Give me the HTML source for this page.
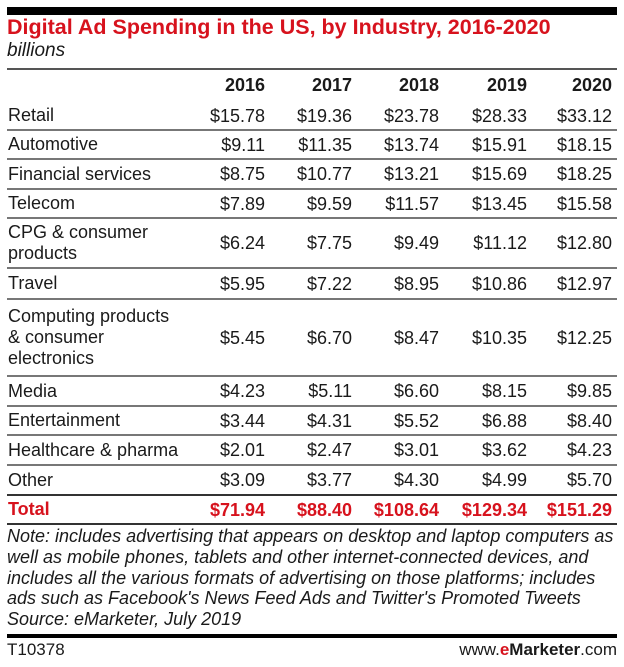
<!DOCTYPE html>
<html><head><meta charset="utf-8">
<style>
body{margin:0;width:624px;height:667px;background:#fff;font-family:"Liberation Sans",sans-serif;color:#1a1a1a;position:relative;overflow:hidden}
.a{position:absolute;white-space:nowrap}
.ln{position:absolute;left:7px;width:610px;background:#555}
.c{position:absolute;text-align:right;font-size:18px;line-height:20px}
.lab{position:absolute;left:8px;font-size:18px;line-height:21px}
</style></head><body>
<div class="a" style="left:7px;top:7px;width:610px;height:8px;background:#000"></div>
<div class="a" style="left:7px;top:15px;font-size:21.5px;font-weight:bold;color:#d7121d">Digital Ad Spending in the US, by Industry, 2016-2020</div>
<div class="a" style="left:7px;top:40px;font-size:19px;font-style:italic">billions</div>
<div class="ln" style="top:68px;height:2px"></div>
<div id="tbl"></div>
<div class="a" style="left:7px;top:526px;font-size:18px;font-style:italic;line-height:20.8px">Note: includes advertising that appears on desktop and laptop computers as<br>well as mobile phones, tablets and other internet-connected devices, and<br>includes all the various formats of advertising on those platforms; includes<br>ads such as Facebook's News Feed Ads and Twitter's Promoted Tweets<br>Source: eMarketer, July 2019</div>
<div class="a" style="left:7px;top:634px;width:610px;height:4px;background:#000"></div>
<div class="a" style="left:7px;top:640px;font-size:17px">T10378</div>
<div class="a" style="right:7px;top:640px;font-size:17px">www.<b style="color:#d7121d">e</b><b>Marketer</b>.com</div>
<script>
const years=["2016","2017","2018","2019","2020"];
const industries=["Retail","Automotive","Financial services","Telecom","CPG & consumer<br>products","Travel","Computing products<br>& consumer<br>electronics","Media","Entertainment","Healthcare & pharma","Other"];
const v2016=["$15.78","$9.11","$8.75","$7.89","$6.24","$5.95","$5.45","$4.23","$3.44","$2.01","$3.09"];
const v2017=["$19.36","$11.35","$10.77","$9.59","$7.75","$7.22","$6.70","$5.11","$4.31","$2.47","$3.77"];
const v2018=["$23.78","$13.74","$13.21","$11.57","$9.49","$8.95","$8.47","$6.60","$5.52","$3.01","$4.30"];
const v2019=["$28.33","$15.91","$15.69","$13.45","$11.12","$10.86","$10.35","$8.15","$6.88","$3.62","$4.99"];
const v2020=["$33.12","$18.15","$18.25","$15.58","$12.80","$12.97","$12.25","$9.85","$8.40","$4.23","$5.70"];
const totals=["$71.94","$88.40","$108.64","$129.34","$151.29"];
const series=[v2016,v2017,v2018,v2019,v2020];
const rowBounds=[101,130,159,189,218,268,299,376,406,435,465,495,524];
const colRight=[265,352,439,527,612];
const t=document.getElementById('tbl');
function add(html,cls,css,name){const d=document.createElement('div');d.className=cls;d.innerHTML=html;d.style.cssText=css;


t.appendChild(d);return d;}
years.forEach((y,i)=>{add(y,'c',`right:${624-colRight[i]}px;top:75px;font-weight:bold`,'column-header-'+y);});
for(let r=0;r<=industries.length;r++){
  const top=rowBounds[r],bot=rowBounds[r+1],mid=(top+bot)/2;
  if(r>0){const l=document.createElement('div');l.className='ln';l.style.cssText=`top:${top-1}px;height:${r===industries.length?2:1.5}px;background:${r===industries.length?'#333':'#777'}`;
  
  
  t.appendChild(l);}
  const isTot=r===industries.length;
  const lines=isTot?1:(industries[r].split('<br>').length);
  const style=isTot?'font-weight:bold;color:#d7121d;':'';
  add(isTot?'Total':industries[r],'lab',`top:${mid-lines*10.5}px;${style}`,isTot?'total-label':'row-label');
  for(let c=0;c<5;c++){
    add(isTot?totals[c]:series[c][r],'c',`right:${624-colRight[c]}px;top:${mid-10}px;${style}`,isTot?'total-value':'cell-value');
  }
}
const l=document.createElement('div');l.className='ln';l.style.cssText='top:523px;height:2px;background:#333';


t.appendChild(l);
</script>
</body></html>
